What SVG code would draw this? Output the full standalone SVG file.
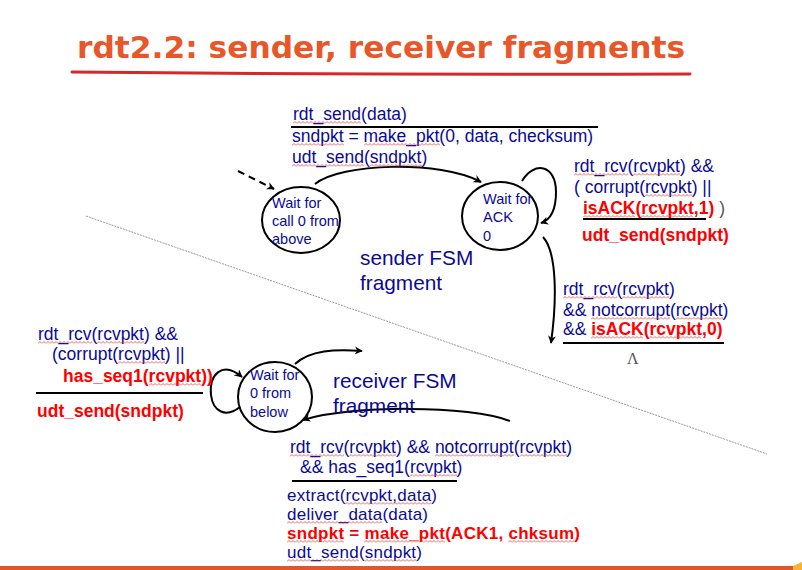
<svg xmlns="http://www.w3.org/2000/svg" width="802" height="570" viewBox="0 0 802 570">
  <defs>
    <marker id="arrow" viewBox="0 0 10 10" refX="9" refY="5" markerWidth="8" markerHeight="8" markerUnits="userSpaceOnUse" orient="auto">
      <path d="M0,0 L10,5 L0,10 L3,5 z" fill="#000"/>
    </marker>
    <!-- spell-check squiggle, tiled under flagged words -->
    <pattern id="wave" patternUnits="userSpaceOnUse" width="4" height="3">
      <path d="M0,2.5 L2,0.5 L4,2.5" fill="none" stroke="#e83a3a" stroke-width="0.8"/>
    </pattern>
    <style>
      .t { font-family: "Liberation Sans", Arial, sans-serif; font-size: 17.5px; fill: #0a0a96; }
      .ts { font-size: 17px; }
      .st { font-family: "Liberation Sans", Arial, sans-serif; font-size: 14.5px; fill: #0a0a96; }
      .big { font-family: "Liberation Sans", Arial, sans-serif; font-size: 20.8px; fill: #0a0a96; }
      .r { font-weight: bold; fill: #ff0000; }
      .g { fill: #555; }
      .state { fill: #fff; stroke: #000; stroke-width: 2; }
      .edge { fill: none; stroke: #000; stroke-width: 2; marker-end: url(#arrow); }
      .bar { stroke: #000; stroke-width: 2; }
      .sq { fill: url(#wave); }
    </style>
  </defs>

  <rect width="802" height="570" fill="#fff"/>

  <!-- title -->
  <g id="title">
    <text x="77" y="58" font-family="'DejaVu Sans', sans-serif" font-weight="bold" font-size="31" fill="#e8572a" textLength="608" lengthAdjust="spacingAndGlyphs">rdt2.2: sender, receiver fragments</text>
    <path d="M72,72 Q380,75 690,74" fill="none" stroke="#d9262b" stroke-width="3" stroke-linecap="round"/>
  </g>

  <!-- divider between sender and receiver -->
  <line x1="86" y1="216" x2="767" y2="454" stroke="#999" stroke-width="1" stroke-dasharray="2,1"/>

  <!-- states -->
  <g id="s-wait-call0">
    <ellipse class="state" cx="301" cy="220" rx="39" ry="33"/>
    <text class="st" x="272" y="208">Wait for</text>
    <text class="st" x="272" y="226">call 0 from</text>
    <text class="st" x="272" y="244">above</text>
  </g>
  <g id="s-wait-ack0">
    <ellipse class="state" cx="500" cy="216" rx="38" ry="34"/>
    <text class="st" x="483" y="204">Wait for</text>
    <text class="st" x="483" y="222">ACK</text>
    <text class="st" x="483" y="241">0</text>
  </g>
  <g id="r-wait-0">
    <ellipse class="state" cx="275" cy="397" rx="37" ry="35"/>
    <text class="st" x="250" y="380">Wait for</text>
    <text class="st" x="250" y="398">0 from</text>
    <text class="st" x="250" y="417">below</text>
  </g>

  <!-- transitions -->
  <g id="connectors">
    <path class="edge" d="M238,171 L274,189" stroke-dasharray="7,5"/>
    <path class="edge" d="M315,184 C340,163 440,160 481,182"/>
    <path class="edge" d="M522,181 C534,161 556,164 556,192 C556,210 550,220 541,223"/>
    <path class="edge" d="M543,237 C557,252 557,300 551,343"/>
    <path class="edge" d="M240,407 C226,418 213,412 211,395 C209,375 222,360 242,377"/>
    <path class="edge" d="M295,364 C310,350 335,349 362,351"/>
    <path class="edge" d="M510,421 C470,405 350,405 303,420"/>
  </g>

  <!-- transition labels -->
  <g id="labels">
    <text class="t" x="293" y="120">rdt_send(data)</text>
    <line class="bar" x1="291" y1="127" x2="598" y2="127"/>
    <text class="t" x="292" y="142">sndpkt = make_pkt(0, data, checksum)</text>
    <text class="t" x="292" y="163">udt_send(sndpkt)</text>

    <text class="t" x="574" y="172">rdt_rcv(rcvpkt) &amp;&amp;</text>
    <text class="t" x="574" y="193">( corrupt(rcvpkt) ||</text>
    <text class="t" x="583" y="214"><tspan class="r">isACK(rcvpkt,1)</tspan><tspan class="g"> )</tspan></text>
    <line class="bar" x1="583" y1="219" x2="706" y2="219"/>
    <text class="t r" x="582" y="241">udt_send(sndpkt)</text>

    <text class="t" x="563" y="295">rdt_rcv(rcvpkt)</text>
    <text class="t" x="563" y="316">&amp;&amp; notcorrupt(rcvpkt)</text>
    <text class="t" x="563" y="335">&amp;&amp; <tspan class="r">isACK(rcvpkt,0)</tspan></text>
    <line class="bar" x1="563" y1="343" x2="724" y2="343"/>
    <text x="627" y="364" font-family="'Liberation Serif', 'Times New Roman', serif" font-size="16" fill="#555">Λ</text>

    <text class="t" x="38" y="340">rdt_rcv(rcvpkt) &amp;&amp;</text>
    <text class="t" x="52" y="360">(corrupt(rcvpkt) ||</text>
    <text class="t r" x="63" y="382">has_seq1(rcvpkt))</text>
    <line class="bar" x1="36" y1="393" x2="203" y2="393"/>
    <text class="t r" x="37" y="417">udt_send(sndpkt)</text>

    <text class="t" x="290" y="453">rdt_rcv(rcvpkt) &amp;&amp; notcorrupt(rcvpkt)</text>
    <text class="t" x="300" y="473">&amp;&amp; has_seq1(rcvpkt)</text>
    <line class="bar" x1="292" y1="481" x2="457" y2="481"/>
    <text class="t ts" x="287" y="501" textLength="150" lengthAdjust="spacing">extract(rcvpkt,data)</text>
    <text class="t ts" x="287" y="520" textLength="141" lengthAdjust="spacing">deliver_data(data)</text>
    <text class="t ts r" x="287" y="539" textLength="293" lengthAdjust="spacing">sndpkt = make_pkt(ACK1, chksum)</text>
    <text class="t ts" x="287" y="558" textLength="135" lengthAdjust="spacing">udt_send(sndpkt)</text>
  </g>

  <!-- spell-check squiggles under identifiers -->
  <g id="squiggles">
    <rect class="sq" transform="translate(293,121)" width="68" height="3"/>
    <rect class="sq" transform="translate(292,143)" width="52" height="3"/>
    <rect class="sq" transform="translate(364,143)" width="76" height="3"/>
    <rect class="sq" transform="translate(292,164)" width="72" height="3"/>
    <rect class="sq" transform="translate(370,164)" width="52" height="3"/>

    <rect class="sq" transform="translate(574,173)" width="54" height="3"/>
    <rect class="sq" transform="translate(633,173)" width="47" height="3"/>
    <rect class="sq" transform="translate(645,194)" width="47" height="3"/>
    <rect class="sq" transform="translate(583,215)" width="52" height="3"/>
    <rect class="sq" transform="translate(641,215)" width="52" height="3"/>

    <rect class="sq" transform="translate(563,296)" width="54" height="3"/>
    <rect class="sq" transform="translate(622,296)" width="47" height="3"/>
    <rect class="sq" transform="translate(591,317)" width="79" height="3"/>
    <rect class="sq" transform="translate(676,317)" width="47" height="3"/>
    <rect class="sq" transform="translate(591,336)" width="52" height="3"/>
    <rect class="sq" transform="translate(649,336)" width="52" height="3"/>

    <rect class="sq" transform="translate(38,341)" width="54" height="3"/>
    <rect class="sq" transform="translate(97,341)" width="47" height="3"/>
    <rect class="sq" transform="translate(118,361)" width="47" height="3"/>
    <rect class="sq" transform="translate(149,383)" width="52" height="3"/>

    <rect class="sq" transform="translate(290,454)" width="54" height="3"/>
    <rect class="sq" transform="translate(349,454)" width="47" height="3"/>
    <rect class="sq" transform="translate(435,454)" width="79" height="3"/>
    <rect class="sq" transform="translate(520,454)" width="47" height="3"/>
    <rect class="sq" transform="translate(410,474)" width="47" height="3"/>
    <rect class="sq" transform="translate(345,502)" width="86" height="3"/>
    <rect class="sq" transform="translate(287,521)" width="95" height="3"/>
    <rect class="sq" transform="translate(287,540)" width="57" height="3"/>
    <rect class="sq" transform="translate(364,540)" width="81" height="3"/>
    <rect class="sq" transform="translate(508,540)" width="66" height="3"/>
    <rect class="sq" transform="translate(287,559)" width="72" height="3"/>
    <rect class="sq" transform="translate(365,559)" width="52" height="3"/>
  </g>

  <!-- FSM captions -->
  <g id="captions">
    <text class="big" x="360" y="265">sender FSM</text>
    <text class="big" x="360" y="290">fragment</text>
    <text class="big" x="333" y="388">receiver FSM</text>
    <text class="big" x="333" y="413">fragment</text>
  </g>

  <!-- footer bar -->
  <rect x="0" y="566" width="802" height="4" fill="#e0582a"/>
  <polygon points="793,566 802,562 802,570 793,570" fill="#f5b335"/>
</svg>
